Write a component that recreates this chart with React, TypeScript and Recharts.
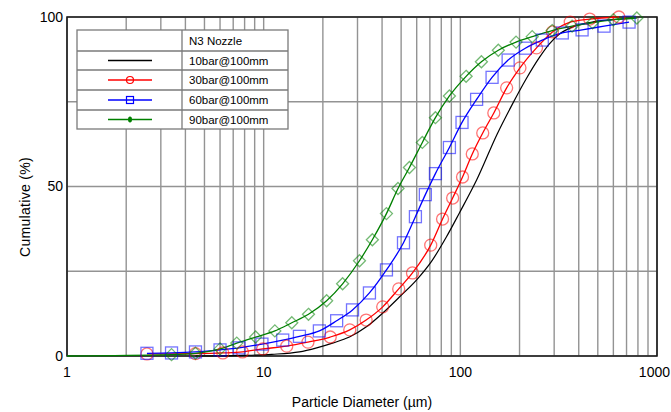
import React from "react";
import { LineChart, Line, XAxis, YAxis, CartesianGrid, ReferenceArea } from "recharts";

const xTicks = [1, 2, 3, 4, 5, 6, 7, 8, 9, 10, 20, 30, 40, 50, 60, 70, 80, 90, 100, 200, 300, 400, 500, 600, 700, 800, 900, 1000];
const xLabels = [1, 10, 100, 1000];
const yTicks = [0, 25, 50, 75, 100];
const yLabels = [0, 50, 100];

const legendTitle = "N3 Nozzle";
const seriesNames = ["10bar@100mm", "30bar@100mm", "60bar@100mm", "90bar@100mm"];

// 10bar - line only
const size10 = [4.5, 8, 11, 15.2, 18.6, 22.4, 27.3, 33.3, 40.2, 49, 59.8, 72.1, 84.9, 98.9, 121, 154, 184, 216, 252, 283, 318, 370, 468, 591, 750];
const cum10 = [0, 0.2, 0.5, 1.2, 2.4, 3.8, 5.6, 8.6, 12.6, 17.4, 22.4, 28.3, 35.1, 42.2, 51.9, 65.5, 74.3, 81.7, 88.0, 92.0, 94.9, 97.0, 98.5, 99.2, 99.6];

// 30bar - circles
const size30 = [2.55, 4.5, 6.2, 7.8, 9.9, 13.1, 16.8, 21.8, 27.4, 33.2, 40.3, 48.6, 57.1, 70.7, 81.2, 91.4, 102.6, 115, 130, 148, 172, 201, 244, 294, 362, 455, 640];
const cum30 = [0.6, 0.7, 0.9, 1.2, 2.1, 2.9, 4.1, 5.6, 7.7, 10.6, 14.5, 19.8, 24.5, 32.7, 40.4, 46.6, 52.8, 59.6, 65.8, 71.7, 79.1, 85.0, 90.9, 95.6, 98.5, 99.4, 100];

// 60bar - squares
const size60 = [2.55, 3.4, 4.5, 6.0, 7.5, 9.8, 12.5, 15.2, 19.2, 23.5, 28.3, 34.5, 42.1, 51.4, 59.1, 66.4, 74.7, 88, 102, 121, 145, 175, 214, 261, 330, 416, 538, 721];
const cum60 = [0.8, 0.9, 1.2, 1.8, 2.4, 3.5, 4.7, 5.8, 7.4, 10.4, 13.6, 18.6, 25.4, 33.4, 41.1, 47.6, 53.8, 61.5, 68.9, 75.7, 82.2, 87.3, 90.8, 93.2, 95.3, 96.2, 97.3, 98.5];

// 90bar - diamonds
const size90 = [1, 3.4, 4.5, 6.0, 7.3, 9.1, 11.4, 13.9, 16.9, 20.9, 25.2, 30.7, 35.7, 42.1, 48.2, 55.1, 64.1, 74.7, 88, 107, 128, 156, 192, 232, 293, 370, 470, 600, 790];
const cum90 = [0, 0.4, 0.8, 2.1, 3.8, 5.6, 7.4, 9.8, 12.3, 16.3, 21.3, 28.1, 34.3, 42.0, 49.4, 55.6, 63.0, 70.3, 76.7, 82.5, 86.8, 90.2, 92.6, 94.2, 96.0, 97.3, 98.3, 99.2, 99.7];

const zip = (d: number[], v: number[]) => d.map((x, i) => ({ d: x, v: v[i] }));

const font = "'Liberation Sans', Arial, sans-serif";

const makeDot = (shape: string, color: string) => (props: any) => {
  const { cx, cy, index, payload } = props;
  if (cx == null || cy == null || payload.v === 0) return <g key={index} />;
  const common = { fill: "none", stroke: color, strokeOpacity: 0.55, strokeWidth: 1.3 };
  if (shape === "circle") return <circle key={index} cx={cx} cy={cy} r={6} {...common} />;
  if (shape === "square") return <rect key={index} x={cx - 6} y={cy - 6} width={12} height={12} {...common} />;
  return (
    <polygon key={index} points={`${cx},${cy - 6} ${cx + 6},${cy} ${cx},${cy + 6} ${cx - 6},${cy}`} {...common} />
  );
};

// keeps the last label ("1000") inside the picture
const XTick = (props: any) => {
  const { x, y, payload } = props;
  if (!xLabels.includes(payload.value)) return <g />;
  const last = payload.value === xLabels[xLabels.length - 1];
  return (
    <text x={last ? 670 : x} y={y} dy="0.71em" textAnchor={last ? "end" : "middle"} fontSize={14} fontFamily={font} fill="#000">
      {payload.value}
    </text>
  );
};

const Legend = () => {
  const rows = [0, 21, 40, 60, 80, 99];
  const colors = ["#000", "#ff0000", "#0000ff", "#008000"];
  return (
    <svg width={213} height={101} style={{ position: "absolute", left: 76, top: 29 }}>
      <rect x={1} y={1} width={211} height={99} fill="#fff" stroke="#7a7a7a" strokeWidth={1.3} />
      <line x1={106} y1={1} x2={106} y2={100} stroke="#7a7a7a" strokeWidth={1.3} />
      {rows.slice(1, 5).map((r) => (
        <line key={r} x1={1} y1={r + 1} x2={212} y2={r + 1} stroke="#7a7a7a" strokeWidth={1.3} />
      ))}
      <text x={113} y={16} fontSize={11.5} fontFamily={font}>{legendTitle}</text>
      {seriesNames.map((name, i) => {
        const top = rows[i + 1] + 1;
        const mid = (rows[i + 1] + rows[i + 2]) / 2 + 1;
        return (
          <g key={name}>
            <line x1={32} y1={mid} x2={76} y2={mid} stroke={colors[i]} strokeWidth={1.5} />
            {i === 1 && <circle cx={54} cy={mid} r={3.5} fill="none" stroke={colors[i]} strokeWidth={1.2} />}
            {i === 2 && <rect x={50.5} y={mid - 3.5} width={7} height={7} fill="none" stroke={colors[i]} strokeWidth={1.2} />}
            {i === 3 && <ellipse cx={54} cy={mid} rx={2} ry={3} fill={colors[i]} />}
            <text x={113} y={top + 14} fontSize={11.5} fontFamily={font}>{name}</text>
          </g>
        );
      })}
    </svg>
  );
};

export default function App() {
  return (
    <div style={{ position: "absolute", left: 0, top: 0, width: 671, height: 412, background: "#fff", overflow: "hidden" }}>
      <LineChart width={671} height={412} margin={{ top: 17, right: 14, bottom: 0, left: 0 }}>
        <CartesianGrid stroke="#939393" strokeWidth={1.4} />
        <XAxis
          dataKey="d"
          type="number"
          scale="log"
          domain={[1, 1000]}
          allowDataOverflow
          ticks={xTicks}
          interval={0}
          height={56}
          tickLine={false}
          axisLine={false}
          tickSize={0}
          tickMargin={11}
          tick={<XTick />}
        />
        <YAxis
          type="number"
          domain={[0, 100]}
          ticks={yTicks}
          interval={0}
          width={67}
          tickFormatter={(t: number) => (yLabels.includes(t) ? String(t) : "")}
          tickLine={false}
          axisLine={false}
          tickSize={0}
          tickMargin={4}
          tick={{ fill: "#000", fontSize: 14, fontFamily: font }}
        />
        <ReferenceArea x1={1} x2={1000} y1={0} y2={100} fill="none" fillOpacity={0} stroke="#1a1a1a" strokeWidth={1.6} ifOverflow="visible" />
        <Line data={zip(size10, cum10)} dataKey="v" type="monotone" stroke="#000" strokeWidth={1.2} dot={false} isAnimationActive={false} />
        <Line data={zip(size30, cum30)} dataKey="v" type="monotone" stroke="#ff0000" strokeWidth={1.3} dot={makeDot("circle", "#ff0000")} isAnimationActive={false} />
        <Line data={zip(size60, cum60)} dataKey="v" type="monotone" stroke="#0000ff" strokeWidth={1.3} dot={makeDot("square", "#0000ff")} isAnimationActive={false} />
        <Line data={zip(size90, cum90)} dataKey="v" type="monotone" stroke="#008000" strokeWidth={1.3} dot={makeDot("diamond", "#008000")} isAnimationActive={false} />
      </LineChart>
      <svg width={671} height={412} style={{ position: "absolute", left: 0, top: 0, pointerEvents: "none" }}>
        <text x={362} y={407} textAnchor="middle" fontSize={14} fontFamily={font} fill="#000">
          Particle Diameter (µm)
        </text>
        <text transform="translate(30,207) rotate(-90)" textAnchor="middle" fontSize={14} fontFamily={font} fill="#000" letterSpacing={0.3}>
          Cumulative (%)
        </text>
      </svg>
      <Legend />
    </div>
  );
}
